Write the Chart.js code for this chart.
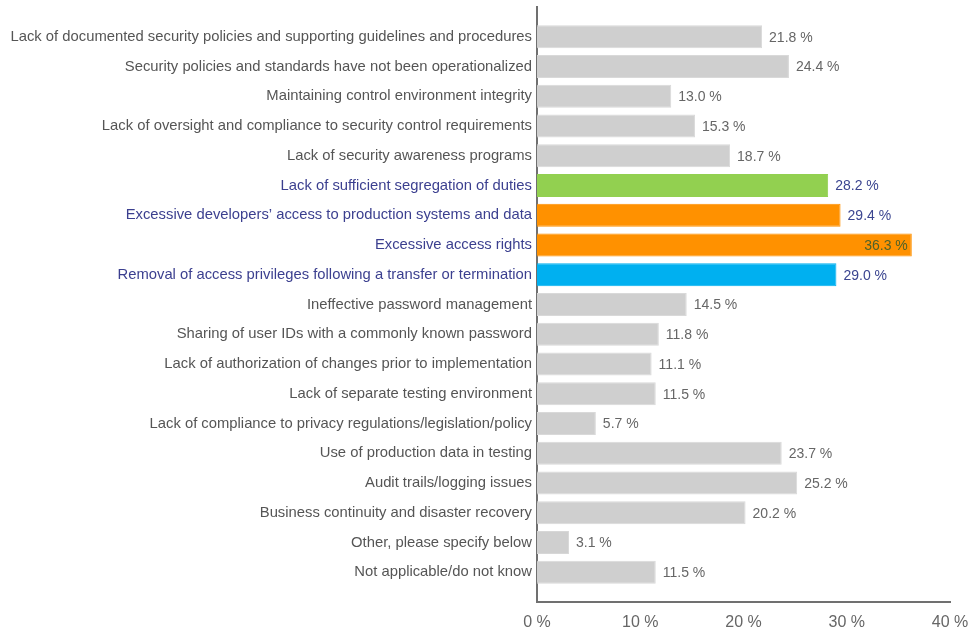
<!DOCTYPE html>
<html>
<head>
<meta charset="utf-8">
<script src="https://cdn.jsdelivr.net/npm/chart.js@4"></script>
<style>
html,body{margin:0;padding:0;background:#fff;}
#wrap{width:972px;height:629px;position:relative;}
</style>
</head>
<body>
<div id="wrap"><canvas id="c"></canvas></div>
<script>
const categories = [
  "Lack of documented security policies and supporting guidelines and procedures",
  "Security policies and standards have not been operationalized",
  "Maintaining control environment integrity",
  "Lack of oversight and compliance to security control requirements",
  "Lack of security awareness programs",
  "Lack of sufficient segregation of duties",
  "Excessive developers’ access to production systems and data",
  "Excessive access rights",
  "Removal of access privileges following a transfer or termination",
  "Ineffective password management",
  "Sharing of user IDs with a commonly known password",
  "Lack of authorization of changes prior to implementation",
  "Lack of separate testing environment",
  "Lack of compliance to privacy regulations/legislation/policy",
  "Use of production data in testing",
  "Audit trails/logging issues",
  "Business continuity and disaster recovery",
  "Other, please specify below",
  "Not applicable/do not know"
];
const values = [21.8, 24.4, 13.0, 15.3, 18.7, 28.2, 29.4, 36.3, 29.0, 14.5, 11.8, 11.1, 11.5, 5.7, 23.7, 25.2, 20.2, 3.1, 11.5];
const xTicks = [0, 10, 20, 30, 40];
const highlighted = [5, 6, 7, 8];

const GRAY = '#cfcfcf';
const highlightColors = {5: '#92d050', 6: '#ff9100', 7: '#ff9100', 8: '#00b0f0'};
const barColors = categories.map((c, i) => highlightColors[i] || GRAY);
const FONT = "'Liberation Sans', Arial, sans-serif";

const valueLabels = {
  id: 'valueLabels',
  afterDatasetsDraw(chart) {
    const ctx = chart.ctx;
    const meta = chart.getDatasetMeta(0);
    ctx.save();
    ctx.font = '14px ' + FONT;
    ctx.textBaseline = 'middle';
    meta.data.forEach((bar, i) => {
      const txt = values[i].toFixed(1) + ' %';
      const hl = highlighted.includes(i);
      if (values[i] > 33) {
        ctx.textAlign = 'right';
        ctx.fillStyle = '#4f6228';
        ctx.fillText(txt, bar.x - 4, bar.y + 1);
      } else {
        ctx.textAlign = 'left';
        ctx.fillStyle = hl ? '#3b4590' : '#666666';
        ctx.fillText(txt, bar.x + 7, bar.y + 1);
      }
    });
    ctx.restore();
  }
};

new Chart(document.getElementById('c'), {
  type: 'bar',
  data: {
    datasets: [{
      data: values.map((v, i) => ({x: v, y: i})),
      backgroundColor: barColors,
      borderColor: barColors.map(c => c === GRAY ? '#d9d9d9' : c),
      borderWidth: 1,
      barPercentage: 0.78,
      categoryPercentage: 1
    }]
  },
  options: {
    indexAxis: 'y',
    responsive: true,
    maintainAspectRatio: false,
    animation: false,
    layout: {padding: {top: 7, right: 22, bottom: 0, left: 0}},
    plugins: {legend: {display: false}, tooltip: {enabled: false}},
    scales: {
      x: {
        type: 'linear',
        min: 0, max: 40,
        afterBuildTicks: (s) => { s.ticks = xTicks.map(v => ({value: v})); },
        afterFit: (s) => { s.height = 27; s.paddingLeft = 0; s.paddingRight = 0; },
        grid: {display: false, drawTicks: false},
        border: {display: true, color: '#707070', width: 2},
        ticks: {
          padding: 11,
          color: '#666666',
          font: {family: FONT, size: 16},
          callback: (v) => v + ' %'
        }
      },
      y: {
        type: 'linear',
        reverse: true,
        offset: false,
        min: -1, max: 19,
        afterBuildTicks: (s) => { s.ticks = categories.map((c, i) => ({value: i})); },
        afterFit: (s) => { s.width = 537; s.paddingTop = 0; s.paddingBottom = 0; },
        grid: {display: false, drawTicks: false, offset: false},
        border: {display: true, color: '#707070', width: 2},
        ticks: {
          autoSkip: false,
          padding: 5,
          color: (ctx) => highlighted.includes(ctx.tick && ctx.tick.value) ? '#3b3f8f' : '#555555',
          font: {family: FONT, size: 14.8},
          callback: (v) => categories[v] !== undefined ? categories[v] : ''
        }
      }
    }
  },
  plugins: [valueLabels]
});
</script>
</body>
</html>
